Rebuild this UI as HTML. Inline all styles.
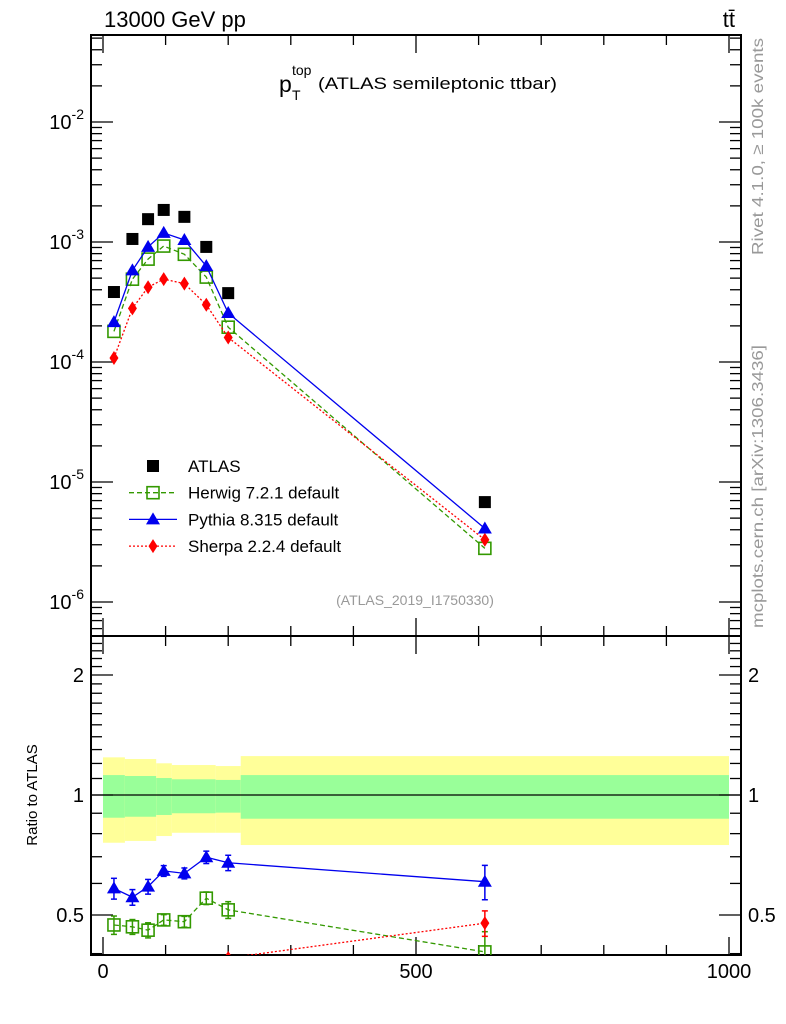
<!DOCTYPE html>
<html><head><meta charset="utf-8"><style>
body{margin:0;background:#fff;}
svg{display:block;font-family:"Liberation Sans",sans-serif;}
</style></head><body>
<svg id="c" width="786" height="1024" viewBox="0 0 786 1024" xmlns="http://www.w3.org/2000/svg">
<text x="104" y="27" font-size="22">13000 GeV pp</text>
<text x="735" y="27" font-size="22" text-anchor="end">tt̄</text>
<g>
<text x="279" y="92" font-size="23">p</text>
<text x="292" y="75" font-size="14">top</text>
<text x="292" y="100" font-size="14">T</text>
<text x="318" y="89" font-size="17" textLength="239" lengthAdjust="spacingAndGlyphs">(ATLAS semileptonic ttbar)</text>
</g>
<text x="415" y="605" font-size="14" fill="#999" text-anchor="middle">(ATLAS_2019_I1750330)</text>
<text transform="translate(763,255) rotate(-90)" font-size="16" fill="#999" textLength="217" lengthAdjust="spacingAndGlyphs">Rivet 4.1.0, ≥ 100k events</text>
<text transform="translate(763,628) rotate(-90)" font-size="16" fill="#999" textLength="283" lengthAdjust="spacingAndGlyphs">mcplots.cern.ch [arXiv:1306.3436]</text>
<text transform="translate(37,795) rotate(-90)" font-size="15" text-anchor="middle">Ratio to ATLAS</text>
<g id="g"></g>
</svg>
<script>
const xVals=[17.5,47,72,97,130,165,200,610];
const atlas=[3.83e-4,1.06e-3,1.55e-3,1.85e-3,1.62e-3,9.1e-4,3.75e-4,6.8e-6];
const herwig=[1.8e-4,4.9e-4,7.2e-4,9.25e-4,7.9e-4,5.1e-4,1.95e-4,2.8e-6];
const pythia=[2.15e-4,5.8e-4,9.1e-4,1.19e-3,1.04e-3,6.3e-4,2.56e-4,4.1e-6];
const sherpa=[1.08e-4,2.8e-4,4.2e-4,4.9e-4,4.5e-4,3.0e-4,1.6e-4,3.3e-6];
const herwigRatio=[0.472,0.467,0.458,0.486,0.481,0.551,0.515,0.404];
const herwigRatioErr=[0.025,0.02,0.02,0.015,0.015,0.02,0.025,0.05];
const pythiaRatio=[0.583,0.554,0.589,0.645,0.636,0.698,0.676,0.606];
const pythiaRatioErr=[0.035,0.025,0.025,0.02,0.02,0.025,0.03,0.06];
const sherpaRatio=[0.28,0.26,0.27,0.26,0.28,0.33,0.39,0.477];
const sherpaRatioErr=[0.02,0.02,0.02,0.02,0.02,0.02,0.004,0.035];
const bandEdges=[0,35,85,110,180,220,1000];
const bandInnerHi=[1.122,1.116,1.103,1.095,1.091,1.122];
const bandInnerLo=[0.877,0.882,0.891,0.900,0.903,0.872];
const bandOuterHi=[1.243,1.231,1.201,1.189,1.182,1.252];
const bandOuterLo=[0.759,0.767,0.789,0.804,0.804,0.749];
const xTicks=[0,500,1000];
const yMain=[-2,-3,-4,-5,-6];
const yRatio=[0.5,1,2];

const NS="http://www.w3.org/2000/svg",G=document.getElementById('g');
const L=91,R=741,T=35,M=636,B=955;
const X=v=>103+v*0.626;
const Y=v=>122-(Math.log10(v)+2)*120;
const YR=v=>795-Math.log10(v)*398.6;
function el(t,a,p){const e=document.createElementNS(NS,t);for(const k in a)e.setAttribute(k,a[k]);(p||G).appendChild(e);return e;}
const defs=el('defs',{});
const c1=el('clipPath',{id:'cm'},defs);el('rect',{x:L,y:T,width:R-L,height:M-T},c1);
const c2=el('clipPath',{id:'cr'},defs);el('rect',{x:L,y:M,width:R-L,height:B-M},c2);
const bg=el('g',{'clip-path':'url(#cr)'});


for(let i=0;i<bandInnerHi.length;i++){
  const x0=X(bandEdges[i]),x1=X(bandEdges[i+1]);
  const o=el('rect',{x:x0,y:YR(bandOuterHi[i]),width:x1-x0,height:YR(bandOuterLo[i])-YR(bandOuterHi[i]),fill:'#ffff99'},bg);
  
  
  const n=el('rect',{x:x0,y:YR(bandInnerHi[i]),width:x1-x0,height:YR(bandInnerLo[i])-YR(bandInnerHi[i]),fill:'#99ff99'},bg);
  
  
}
el('line',{x1:L,x2:R,y1:YR(1),y2:YR(1),stroke:'#000','stroke-width':1.3});
el('rect',{x:L,y:T,width:R-L,height:M-T,fill:'none',stroke:'#000','stroke-width':2});
el('rect',{x:L,y:M,width:R-L,height:B-M,fill:'none',stroke:'#000','stroke-width':2});
for(let v=0;v<=1000;v+=50){
  const big=v%500==0,mid=v%100==0;const len=big?18:(mid?10:0);if(!len)continue;
  [[T,1],[M,-1],[M,1],[B,-1]].forEach(([y,d])=>el('line',{x1:X(v),x2:X(v),y1:y,y2:y+d*len,stroke:'#000','stroke-width':1.3}));
}
xTicks.forEach(v=>{const t=el('text',{x:X(v),y:978,'font-size':20,'text-anchor':'middle'});t.textContent=v;

});
for(let d=-7;d<=-1;d++)for(let m=1;m<10;m++){const y=Y(m*Math.pow(10,d));if(y<T||y>M)continue;const len=m==1?22:11;
  el('line',{x1:L,x2:L+len,y1:y,y2:y,stroke:'#000','stroke-width':1.3});el('line',{x1:R,x2:R-len,y1:y,y2:y,stroke:'#000','stroke-width':1.3});}
yMain.forEach(d=>{const t=el('text',{x:84,y:Y(Math.pow(10,d))+7,'font-size':20,'text-anchor':'end'});
t.innerHTML='10<tspan font-size="14" dy="-10">'+d+'</tspan>';

});
for(let v=0.4;v<=2.5;v+=0.1){const y=YR(v);if(y<M||y>B)continue;const big=Math.abs(v-0.5)<1e-6||Math.abs(v-1)<1e-6||Math.abs(v-2)<1e-6;const len=big?22:11;
  el('line',{x1:L,x2:L+len,y1:y,y2:y,stroke:'#000','stroke-width':1.3});el('line',{x1:R,x2:R-len,y1:y,y2:y,stroke:'#000','stroke-width':1.3});}
yRatio.forEach(v=>{[[84,'end'],[748,'start']].forEach(([x,a])=>{const t=el('text',{x:x,y:YR(v)+7,'font-size':20,'text-anchor':a});t.textContent=v;

});});
function marker(kind,x,y,color,p){
  if(kind=='sq')return el('rect',{x:x-6,y:y-6,width:12,height:12,fill:'none',stroke:color,'stroke-width':1.6},p);
  if(kind=='fsq')return el('rect',{x:x-6,y:y-6,width:12,height:12,fill:color},p);
  if(kind=='tri')return el('polygon',{points:`${x},${y-7} ${x-7},${y+5} ${x+7},${y+5}`,fill:color},p);
  return el('polygon',{points:`${x},${y-7} ${x-4.5},${y} ${x},${y+7} ${x+4.5},${y}`,fill:color},p);
}
const dash={herwig:'5,3',pythia:'',sherpa:'2,2'};
function series(name,vals,yf,color,kind,clip,errs){
  const g=el('g',{'clip-path':'url(#'+clip+')'});
  
  
  if(kind!='fsq'){const pts=vals.map((v,i)=>X(xVals[i])+','+yf(v)).join(' ');
    el('polyline',{points:pts,fill:'none',stroke:color,'stroke-width':1.3,'stroke-dasharray':dash[name]||''},g);}
  vals.forEach((v,i)=>{
    if(errs){const x=X(xVals[i]);el('line',{x1:x,x2:x,y1:yf(v+errs[i]),y2:yf(v-errs[i]),stroke:color,'stroke-width':1.5},g);
      [v+errs[i],v-errs[i]].forEach(w=>el('line',{x1:x-3,x2:x+3,y1:yf(w),y2:yf(w),stroke:color,'stroke-width':1.5},g));}
    const m=marker(kind,X(xVals[i]),yf(v),color,g);
    
    
  });
}
series('atlas',atlas,Y,'#000','fsq','cm');
series('herwig',herwig,Y,'#339900','sq','cm');
series('sherpa',sherpa,Y,'#ff0000','dia','cm');
series('pythia',pythia,Y,'#0000ee','tri','cm');
series('herwig',herwigRatio,YR,'#339900','sq','cr',herwigRatioErr);
series('sherpa',sherpaRatio,YR,'#ff0000','dia','cr',sherpaRatioErr);
series('pythia',pythiaRatio,YR,'#0000ee','tri','cr',pythiaRatioErr);
const lg=el('g',{});


const leg=[['ATLAS','#000','fsq',''],['Herwig 7.2.1 default','#339900','sq','5,3'],['Pythia 8.315 default','#0000ee','tri',''],['Sherpa 2.2.4 default','#ff0000','dia','2,2']];
leg.forEach((l,i)=>{const y=466+i*26.7;const e=el('g',{},lg);
  
  
  if(i>0)el('line',{x1:129,x2:177,y1:y,y2:y,stroke:l[1],'stroke-width':1.3,'stroke-dasharray':l[3]},e);
  marker(l[2],153,y,l[1],e);
  const t=el('text',{x:188,y:y+6,'font-size':17},e);t.textContent=l[0];});
</script>
</body></html>
